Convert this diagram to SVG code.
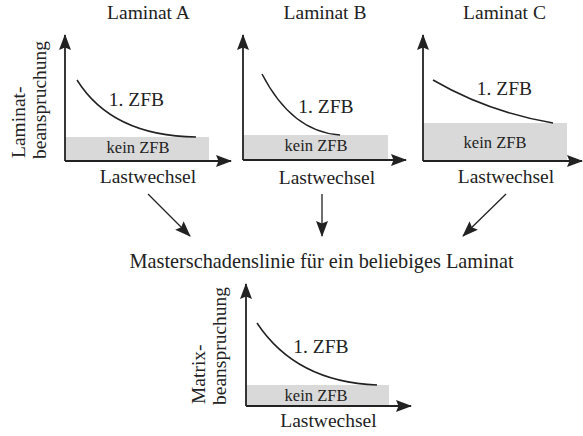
<svg xmlns="http://www.w3.org/2000/svg" width="583" height="436" viewBox="0 0 583 436">
  <style>
    text { font-family: "Liberation Serif", "DejaVu Serif", serif; fill: #222; }
    .t { font-size: 19.5px; }
    .c { text-anchor: middle; }
    .s { font-size: 16.5px; text-anchor: middle; }
    .ax { stroke: #222; stroke-width: 1.8; fill: none; }
    .cv { stroke: #222; stroke-width: 1.5; fill: none; }
    .band { fill: #d9d9d9; }
    .conn { stroke: #222; stroke-width: 1.3; fill: none; }
  </style>
  <defs>
    <marker id="ah" markerUnits="userSpaceOnUse" markerWidth="16" markerHeight="12" viewBox="0 0 16 12" refX="15" refY="6" orient="auto">
      <path d="M0,0 L16,6 L0,12 L2.5,6 Z" fill="#222"/>
    </marker>
  </defs>
  <rect width="583" height="436" fill="#fff"/>

  <g id="panelA">
    <text class="t c" x="148.5" y="19">Laminat A</text>
    <rect class="band" x="65" y="137" width="144" height="24"/>
    <path class="cv" d="M77,80 Q112,136 196,137"/>
    <line class="ax" x1="65" y1="161" x2="65" y2="35" marker-end="url(#ah)"/>
    <line class="ax" x1="65" y1="161" x2="231" y2="161" marker-end="url(#ah)"/>
    <text class="t c" x="136.5" y="106">1. ZFB</text>
    <text class="s" x="138" y="153">kein ZFB</text>
    <text class="t c" x="148" y="183">Lastwechsel</text>
    <text class="t" transform="translate(25,158) rotate(-90)">Laminat-</text>
    <text class="t" transform="translate(46,159) rotate(-90)">beanspruchung</text>
  </g>

  <g id="panelB">
    <text class="t c" x="325" y="19">Laminat B</text>
    <rect class="band" x="243" y="135" width="145" height="25"/>
    <path class="cv" d="M262,74 Q292,132 340,135"/>
    <line class="ax" x1="243" y1="160" x2="243" y2="35" marker-end="url(#ah)"/>
    <line class="ax" x1="243" y1="160" x2="406" y2="160" marker-end="url(#ah)"/>
    <text class="t c" x="326" y="113">1. ZFB</text>
    <text class="s" x="316" y="151">kein ZFB</text>
    <text class="t c" x="327" y="184">Lastwechsel</text>
  </g>

  <g id="panelC">
    <text class="t c" x="504.5" y="19">Laminat C</text>
    <rect class="band" x="423" y="123" width="144" height="38"/>
    <path class="cv" d="M433,80 Q488,112 553,123"/>
    <line class="ax" x1="423" y1="161" x2="423" y2="35" marker-end="url(#ah)"/>
    <line class="ax" x1="423" y1="161" x2="582" y2="161" marker-end="url(#ah)"/>
    <text class="t c" x="504.5" y="95">1. ZFB</text>
    <text class="s" x="495" y="148">kein ZFB</text>
    <text class="t c" x="506" y="183">Lastwechsel</text>
  </g>

  <g id="connectors">
    <line class="conn" x1="148" y1="194" x2="190" y2="236" marker-end="url(#ah)"/>
    <line class="conn" x1="322" y1="194" x2="322" y2="236" marker-end="url(#ah)"/>
    <line class="conn" x1="506" y1="194" x2="463" y2="236" marker-end="url(#ah)"/>
  </g>

  <g id="master">
    <text class="c" x="321.5" y="268" font-size="20.3">Masterschadenslinie für ein beliebiges Laminat</text>
  </g>

  <g id="panelMatrix">
    <rect class="band" x="246" y="385" width="143" height="21"/>
    <path class="cv" d="M257,323 Q296,382 377,385"/>
    <line class="ax" x1="246" y1="406" x2="246" y2="284" marker-end="url(#ah)"/>
    <line class="ax" x1="246" y1="406" x2="411" y2="406" marker-end="url(#ah)"/>
    <text class="t c" x="321" y="353">1. ZFB</text>
    <text class="s" x="316" y="401">kein ZFB</text>
    <text class="t c" x="328.5" y="427">Lastwechsel</text>
    <text class="t" transform="translate(205,404) rotate(-90)">Matrix-</text>
    <text class="t" transform="translate(226,405) rotate(-90)">beanspruchung</text>
  </g>
</svg>
